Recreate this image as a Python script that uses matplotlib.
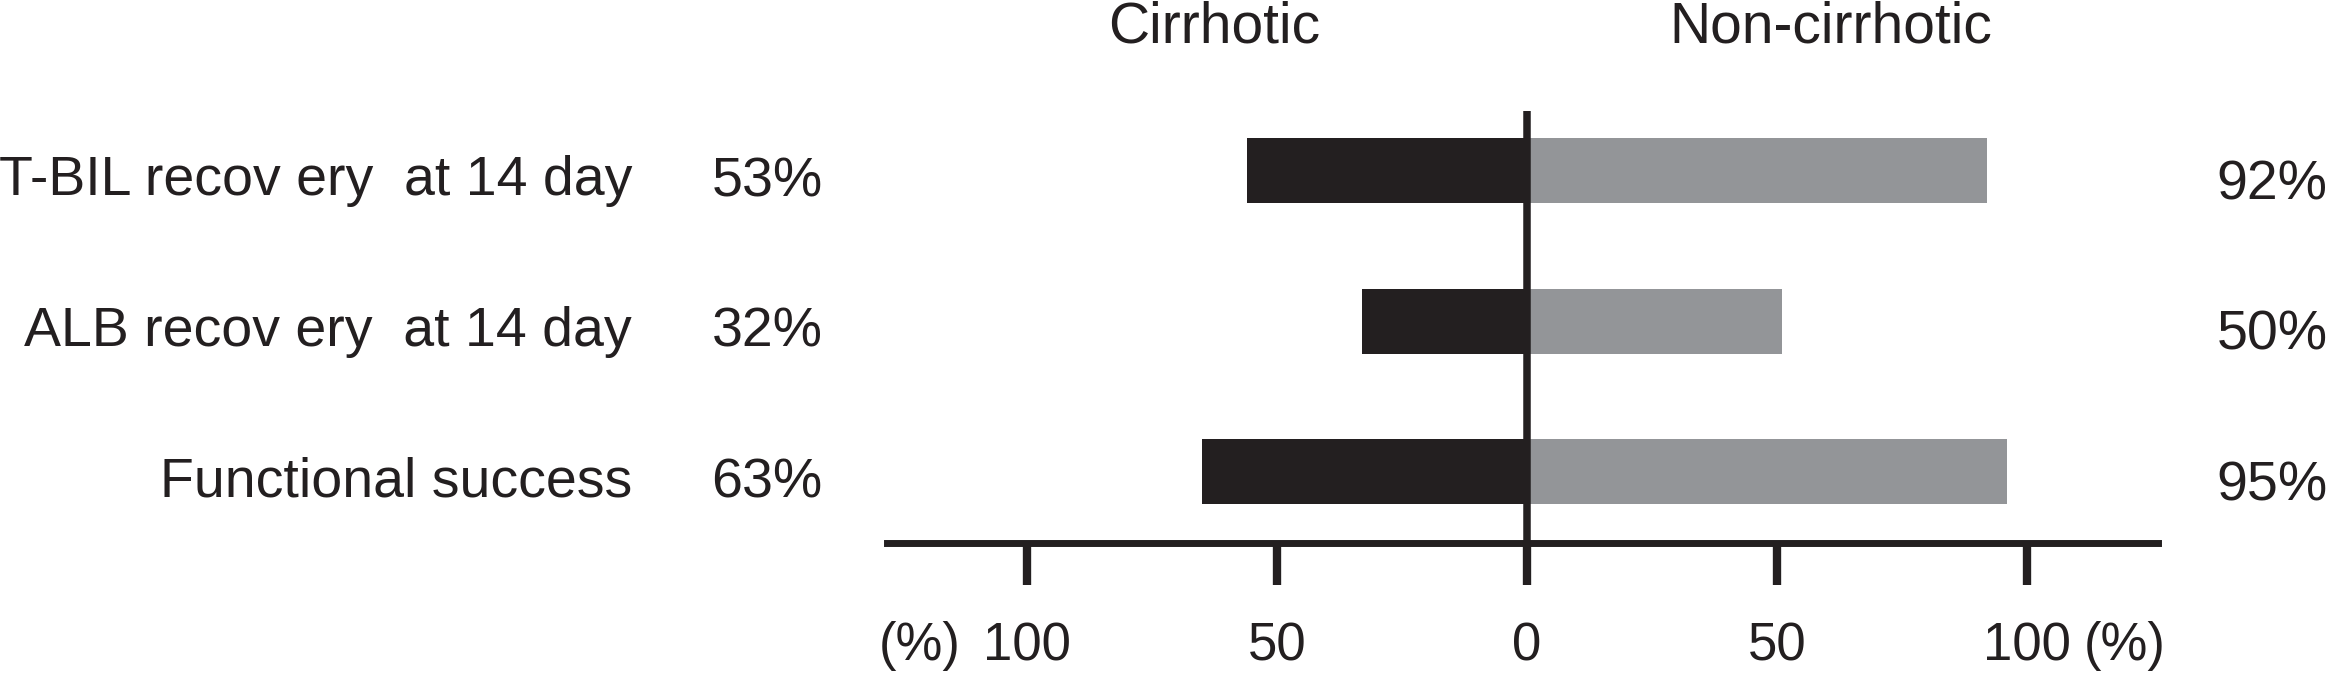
import matplotlib.pyplot as plt

plt.rcParams['font.family'] = ['Liberation Sans', 'DejaVu Sans']

# data
categories = ['T-BIL recov ery  at 14 day', 'ALB recov ery  at 14 day', 'Functional success']
cirrhotic_bar = [56, 33, 65]        # drawn bar lengths (%)
noncirrhotic_bar = [92, 51, 96]
cirrhotic_label = ['53%', '32%', '63%']
noncirrhotic_label = ['92%', '50%', '95%']
tick_values = [-100, -50, 0, 50, 100]
tick_labels = ['100', '50', '0', '50', '100']

dark = '#231f20'
grey = '#939598'

fig = plt.figure(figsize=(23.33, 6.75), dpi=100)
ax = fig.add_axes([0, 0, 1, 1])
ax.set_xlim(-305.4, 161.2)
ax.set_ylim(3.352, -1.133)

rows = list(range(len(categories)))
ax.barh(rows, [-v for v in cirrhotic_bar], height=0.432, color=dark, zorder=2)
ax.barh(rows, noncirrhotic_bar, height=0.432, color=grey, zorder=2)
ax.vlines(0, -0.395, 2.741, color=dark, lw=5.4, zorder=3)

for i in rows:
    ax.text(-179, i + 0.163, categories[i], ha='right', va='baseline', fontsize=40, color=dark)
    ax.text(-152, i + 0.17, cirrhotic_label[i], ha='center', va='baseline', fontsize=40, color=dark)
    ax.text(149, i + 0.19, noncirrhotic_label[i], ha='center', va='baseline', fontsize=40, color=dark)

ax.text(-62.6, -0.953, 'Cirrhotic', ha='center', va='center', fontsize=41, color=dark)
ax.text(60.8, -0.953, 'Non-cirrhotic', ha='center', va='center', fontsize=41, color=dark)

# bottom axis
for s in ['top', 'left', 'right']:
    ax.spines[s].set_visible(False)
ax.spines['bottom'].set_position(('data', 2.478))
ax.spines['bottom'].set_bounds(-128, 126.2)
ax.spines['bottom'].set_linewidth(5.0)
ax.spines['bottom'].set_color(dark)
ax.set_xticks(tick_values)
ax.set_xticklabels(tick_labels)
ax.tick_params(axis='x', direction='out', length=30, width=6, color=dark,
               labelsize=38, labelcolor=dark, pad=26)
ax.set_yticks([])
ax.text(-121.4, 3.253, '(%)', ha='center', va='baseline', fontsize=38, color=dark)
ax.text(119.5, 3.253, '(%)', ha='center', va='baseline', fontsize=38, color=dark)

fig.savefig('out.png', dpi=100)
